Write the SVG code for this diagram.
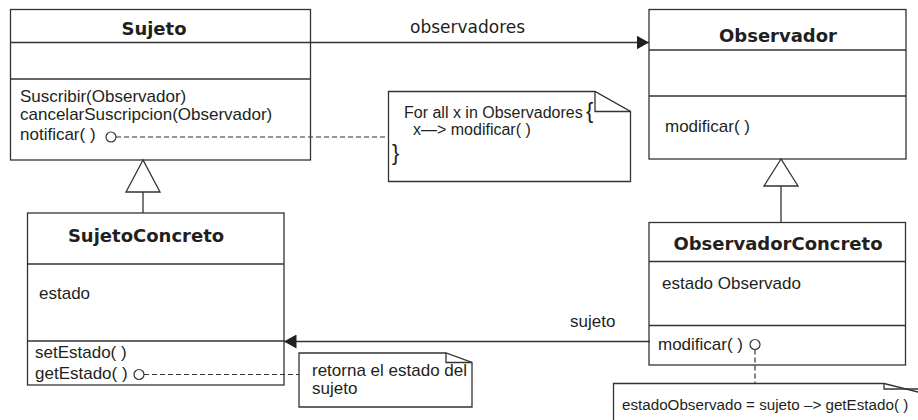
<svg xmlns="http://www.w3.org/2000/svg" width="918" height="420" viewBox="0 0 918 420">
<defs>
<style>
.box{fill:#fff;stroke:#333;stroke-width:1.3}
.ln{fill:none;stroke:#333;stroke-width:1.3}
.dash{fill:none;stroke:#333;stroke-width:1.2;stroke-dasharray:5 3}
.title{font-family:"DejaVu Sans",Verdana,sans-serif;font-weight:bold;font-size:18px;fill:#231f20;text-anchor:middle}
.t{font-family:"Liberation Sans",Arial,sans-serif;font-size:17px;fill:#231f20}
.n{font-family:"Liberation Sans",Arial,sans-serif;font-size:16px;fill:#231f20}
.lbl{font-family:"DejaVu Sans",Verdana,sans-serif;font-size:17px;fill:#231f20}
.tri{fill:#fff;stroke:#333;stroke-width:1.3}
.circ{fill:#fff;stroke:#333;stroke-width:1.2}
</style>
<marker id="arr" markerUnits="userSpaceOnUse" markerWidth="13" markerHeight="14" refX="12.5" refY="7" orient="auto">
<path d="M0,0 L12.5,7 L0,14 z" fill="#231f20"/>
</marker>
</defs>
<rect width="918" height="420" fill="#fff"/>

<g id="Sujeto">
<rect class="box" x="10.5" y="9.5" width="300" height="150.5"/>
<line class="ln" x1="10.5" y1="42.5" x2="310.5" y2="42.5"/>
<line class="ln" x1="10.5" y1="79" x2="310.5" y2="79"/>
<text class="title" x="154" y="34.5">Sujeto</text>
<text class="t" x="20" y="102">Suscribir(Observador)</text>
<text class="t" x="20" y="120">cancelarSuscripcion(Observador)</text>
<text class="t" x="20" y="140">notificar( )</text>
</g>

<g id="Observador">
<rect class="box" x="649" y="9.5" width="257" height="149.5"/>
<line class="ln" x1="649" y1="50" x2="906" y2="50"/>
<line class="ln" x1="649" y1="96" x2="906" y2="96"/>
<text class="title" x="778" y="41.5">Observador</text>
<text class="t" x="665" y="132">modificar( )</text>
</g>

<g id="SujetoConcreto">
<rect class="box" x="27.5" y="213" width="256.5" height="172"/>
<line class="ln" x1="27.5" y1="264" x2="284" y2="264"/>
<line class="ln" x1="27.5" y1="341" x2="284" y2="341"/>
<text class="title" x="146" y="242">SujetoConcreto</text>
<text class="t" x="39" y="299">estado</text>
<text class="t" x="35" y="358">setEstado( )</text>
<text class="t" x="35" y="379">getEstado( )</text>
</g>

<g id="ObservadorConcreto">
<rect class="box" x="649" y="222.5" width="256.5" height="142.5"/>
<line class="ln" x1="649" y1="261.5" x2="905.5" y2="261.5"/>
<line class="ln" x1="649" y1="325.5" x2="905.5" y2="325.5"/>
<text class="title" x="778" y="250">ObservadorConcreto</text>
<text class="t" x="662" y="289">estado Observado</text>
<text class="t" x="658" y="350">modificar( )</text>
</g>

<g id="note-notificar">
<path class="box" d="M388.5,91.5 H595 L630.5,111.5 V181.5 H388.5 Z"/>
<path class="ln" d="M595,91.5 V111.5 H630.5"/>
<text class="n" x="404" y="118">For all x in Observadores</text>
<text class="n" x="413" y="135">x—&gt; modificar( )</text>
<text class="n" x="586" y="118" style="font-size:22px">{</text>
<text class="n" x="392" y="160" style="font-size:22px">}</text>
</g>

<g id="note-getEstado">
<path class="box" d="M299,353 H446 L472,362.5 V407 H299 Z"/>
<path class="ln" d="M446,353 V362.5 H472"/>
<text class="t" x="312" y="376">retorna el estado del</text>
<text class="t" x="312" y="394">sujeto</text>
</g>

<g id="note-modificar">
<path class="box" d="M613.5,425 V383.5 H884 L930,395 V425"/>
<path class="ln" d="M884,383.5 V389 H930"/>
<text class="n" x="622" y="410" style="font-size:15.2px">estadoObservado = sujeto –&gt; getEstado( )</text>
</g>

<g id="connectors">
<line class="ln" x1="311" y1="42.5" x2="649" y2="42.5" marker-end="url(#arr)"/>
<text class="lbl" x="410" y="33">observadores</text>
<line class="ln" x1="650" y1="341.5" x2="284" y2="341.5" marker-end="url(#arr)"/>
<text class="t" x="570" y="327">sujeto</text>
<line class="ln" x1="143" y1="192" x2="143" y2="213"/>
<polygon class="tri" points="143,160 126,192 160,192"/>
<line class="ln" x1="781" y1="186" x2="781" y2="222.5"/>
<polygon class="tri" points="781,159 764,186 798,186"/>
<line class="dash" x1="116" y1="137" x2="388.5" y2="137"/>
<line class="dash" x1="144" y1="374.5" x2="299" y2="374.5"/>
<line class="dash" x1="755" y1="349.5" x2="755" y2="383.5"/>
<circle class="circ" cx="111" cy="137" r="5"/>
<circle class="circ" cx="139" cy="374.5" r="5"/>
<circle class="circ" cx="755" cy="344.5" r="5"/>
</g>
</svg>
